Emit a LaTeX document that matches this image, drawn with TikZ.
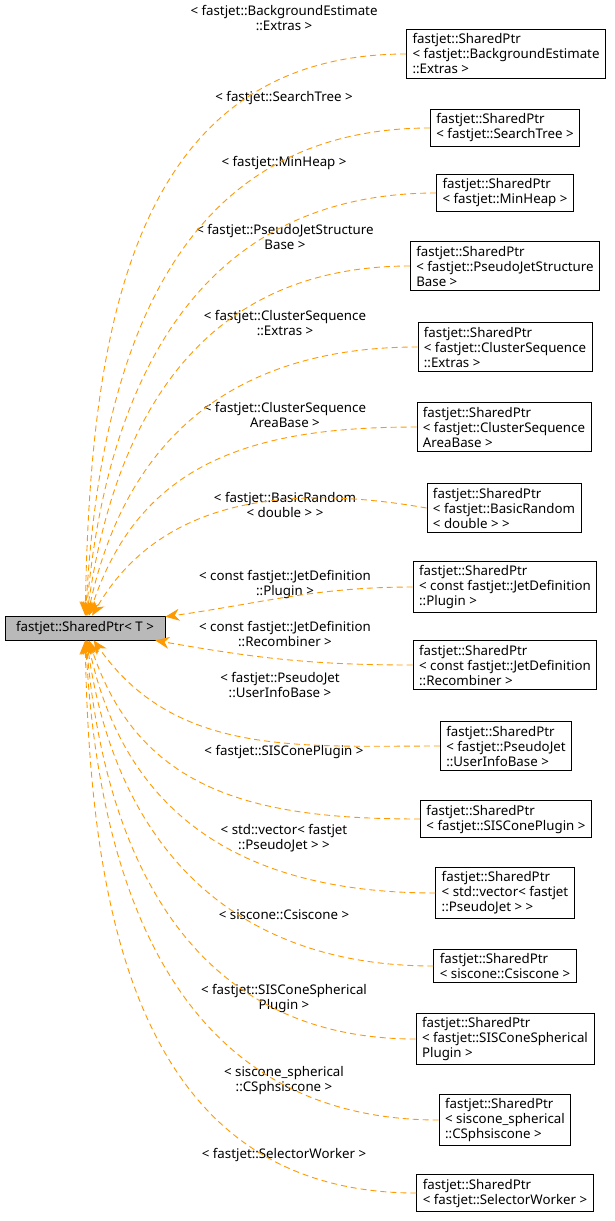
\documentclass[tikz,border=0pt]{standalone}
\usepackage{fontspec}
\setmainfont{Noto Sans}
\usetikzlibrary{arrows.meta}
\begin{document}
\begin{tikzpicture}[x=1pt,y=-1pt,
 box/.style={draw=black,fill=white,align=left,font=\fontsize{13.3}{15}\selectfont,inner xsep=6pt,inner ysep=4pt,line width=0.8pt},
 lab/.style={align=center,font=\fontsize{13.3}{15}\selectfont,inner sep=0pt},
 dep/.style={draw=orange!80!yellow,dashed,dash pattern=on 6pt off 4pt,line width=0.9pt,-{Stealth[length=14pt,width=12pt]}}]
\useasboundingbox (0,0) rectangle (615,1221);
\node[box,fill=gray!55,minimum width=160pt,minimum height=24pt,align=center] (m) at (85,628) {fastjet::SharedPtr< T >};
\node[box] (r1) at (506,54) {fastjet::SharedPtr\\< fastjet::BackgroundEstimate\\::Extras >};
\node[box] (r2) at (505,128) {fastjet::SharedPtr\\< fastjet::SearchTree >};
\node[box] (r3) at (505,193) {fastjet::SharedPtr\\< fastjet::MinHeap >};
\node[box] (r4) at (505,266) {fastjet::SharedPtr\\< fastjet::PseudoJetStructure\\Base >};
\node[box] (r5) at (505,347) {fastjet::SharedPtr\\< fastjet::ClusterSequence\\::Extras >};
\node[box] (r6) at (504,427) {fastjet::SharedPtr\\< fastjet::ClusterSequence\\AreaBase >};
\node[box] (r7) at (504,508) {fastjet::SharedPtr\\< fastjet::BasicRandom\\< double > >};
\node[box] (r8) at (505,587) {fastjet::SharedPtr\\< const fastjet::JetDefinition\\::Plugin >};
\node[box] (r9) at (505,665) {fastjet::SharedPtr\\< const fastjet::JetDefinition\\::Recombiner >};
\node[box] (r10) at (506,746) {fastjet::SharedPtr\\< fastjet::PseudoJet\\::UserInfoBase >};
\node[box] (r11) at (506,819) {fastjet::SharedPtr\\< fastjet::SISConePlugin >};
\node[box] (r12) at (505,893) {fastjet::SharedPtr\\< std::vector< fastjet\\::PseudoJet > >};
\node[box] (r13) at (505,966) {fastjet::SharedPtr\\< siscone::Csiscone >};
\node[box] (r14) at (505,1039) {fastjet::SharedPtr\\< fastjet::SISConeSpherical\\Plugin >};
\node[box] (r15) at (505,1120) {fastjet::SharedPtr\\< siscone\_spherical\\::CSphsiscone >};
\node[box] (r16) at (505,1193) {fastjet::SharedPtr\\< fastjet::SelectorWorker >};
\node[lab] (l1) at (284,18) {< fastjet::BackgroundEstimate\\::Extras >};
\node[lab] (l2) at (284,98) {< fastjet::SearchTree >};
\node[lab] (l3) at (284,163) {< fastjet::MinHeap >};
\node[lab] (l4) at (285,237) {< fastjet::PseudoJetStructure\\Base >};
\node[lab] (l5) at (285,323) {< fastjet::ClusterSequence\\::Extras >};
\node[lab] (l6) at (285,415) {< fastjet::ClusterSequence\\AreaBase >};
\node[lab] (l7) at (285,505) {< fastjet::BasicRandom\\< double > >};
\node[lab] (l8) at (285,584) {< const fastjet::JetDefinition\\::Plugin >};
\node[lab] (l9) at (285,634) {< const fastjet::JetDefinition\\::Recombiner >};
\node[lab] (l10) at (280,685) {< fastjet::PseudoJet\\::UserInfoBase >};
\node[lab] (l11) at (284,752) {< fastjet::SISConePlugin >};
\node[lab] (l12) at (284,838) {< std::vector< fastjet\\::PseudoJet > >};
\node[lab] (l13) at (284,915) {< siscone::Csiscone >};
\node[lab] (l14) at (284,998) {< fastjet::SISConeSpherical\\Plugin >};
\node[lab] (l15) at (284,1081) {< siscone\_spherical\\::CSphsiscone >};
\node[lab] (l16) at (284,1155) {< fastjet::SelectorWorker >};
\draw[dep] (r1.west) to[out=180,in=89,looseness=1.1] (m);
\draw[dep] (r2.west) to[out=180,in=87,looseness=1.1] (m);
\draw[dep] (r3.west) to[out=180,in=85,looseness=1.1] (m);
\draw[dep] (r4.west) to[out=180,in=82,looseness=1.1] (m);
\draw[dep] (r5.west) to[out=180,in=78,looseness=1.1] (m);
\draw[dep] (r6.west) to[out=180,in=72,looseness=1.1] (m);
\draw[dep] (r7.west) to[out=170,in=60] (m);
\draw[dep] (r8.west) to[out=180,in=8] (m);
\draw[dep] (r9.west) to[out=180,in=-10] (m);
\draw[dep] (r10.west) to[out=180,in=-55] (m);
\draw[dep] (r11.west) to[out=180,in=-72,looseness=1.1] (m);
\draw[dep] (r12.west) to[out=180,in=-78,looseness=1.1] (m);
\draw[dep] (r13.west) to[out=180,in=-82,looseness=1.1] (m);
\draw[dep] (r14.west) to[out=180,in=-85,looseness=1.1] (m);
\draw[dep] (r15.west) to[out=180,in=-87,looseness=1.1] (m);
\draw[dep] (r16.west) to[out=180,in=-89,looseness=1.1] (m);
\end{tikzpicture}
\end{document}
